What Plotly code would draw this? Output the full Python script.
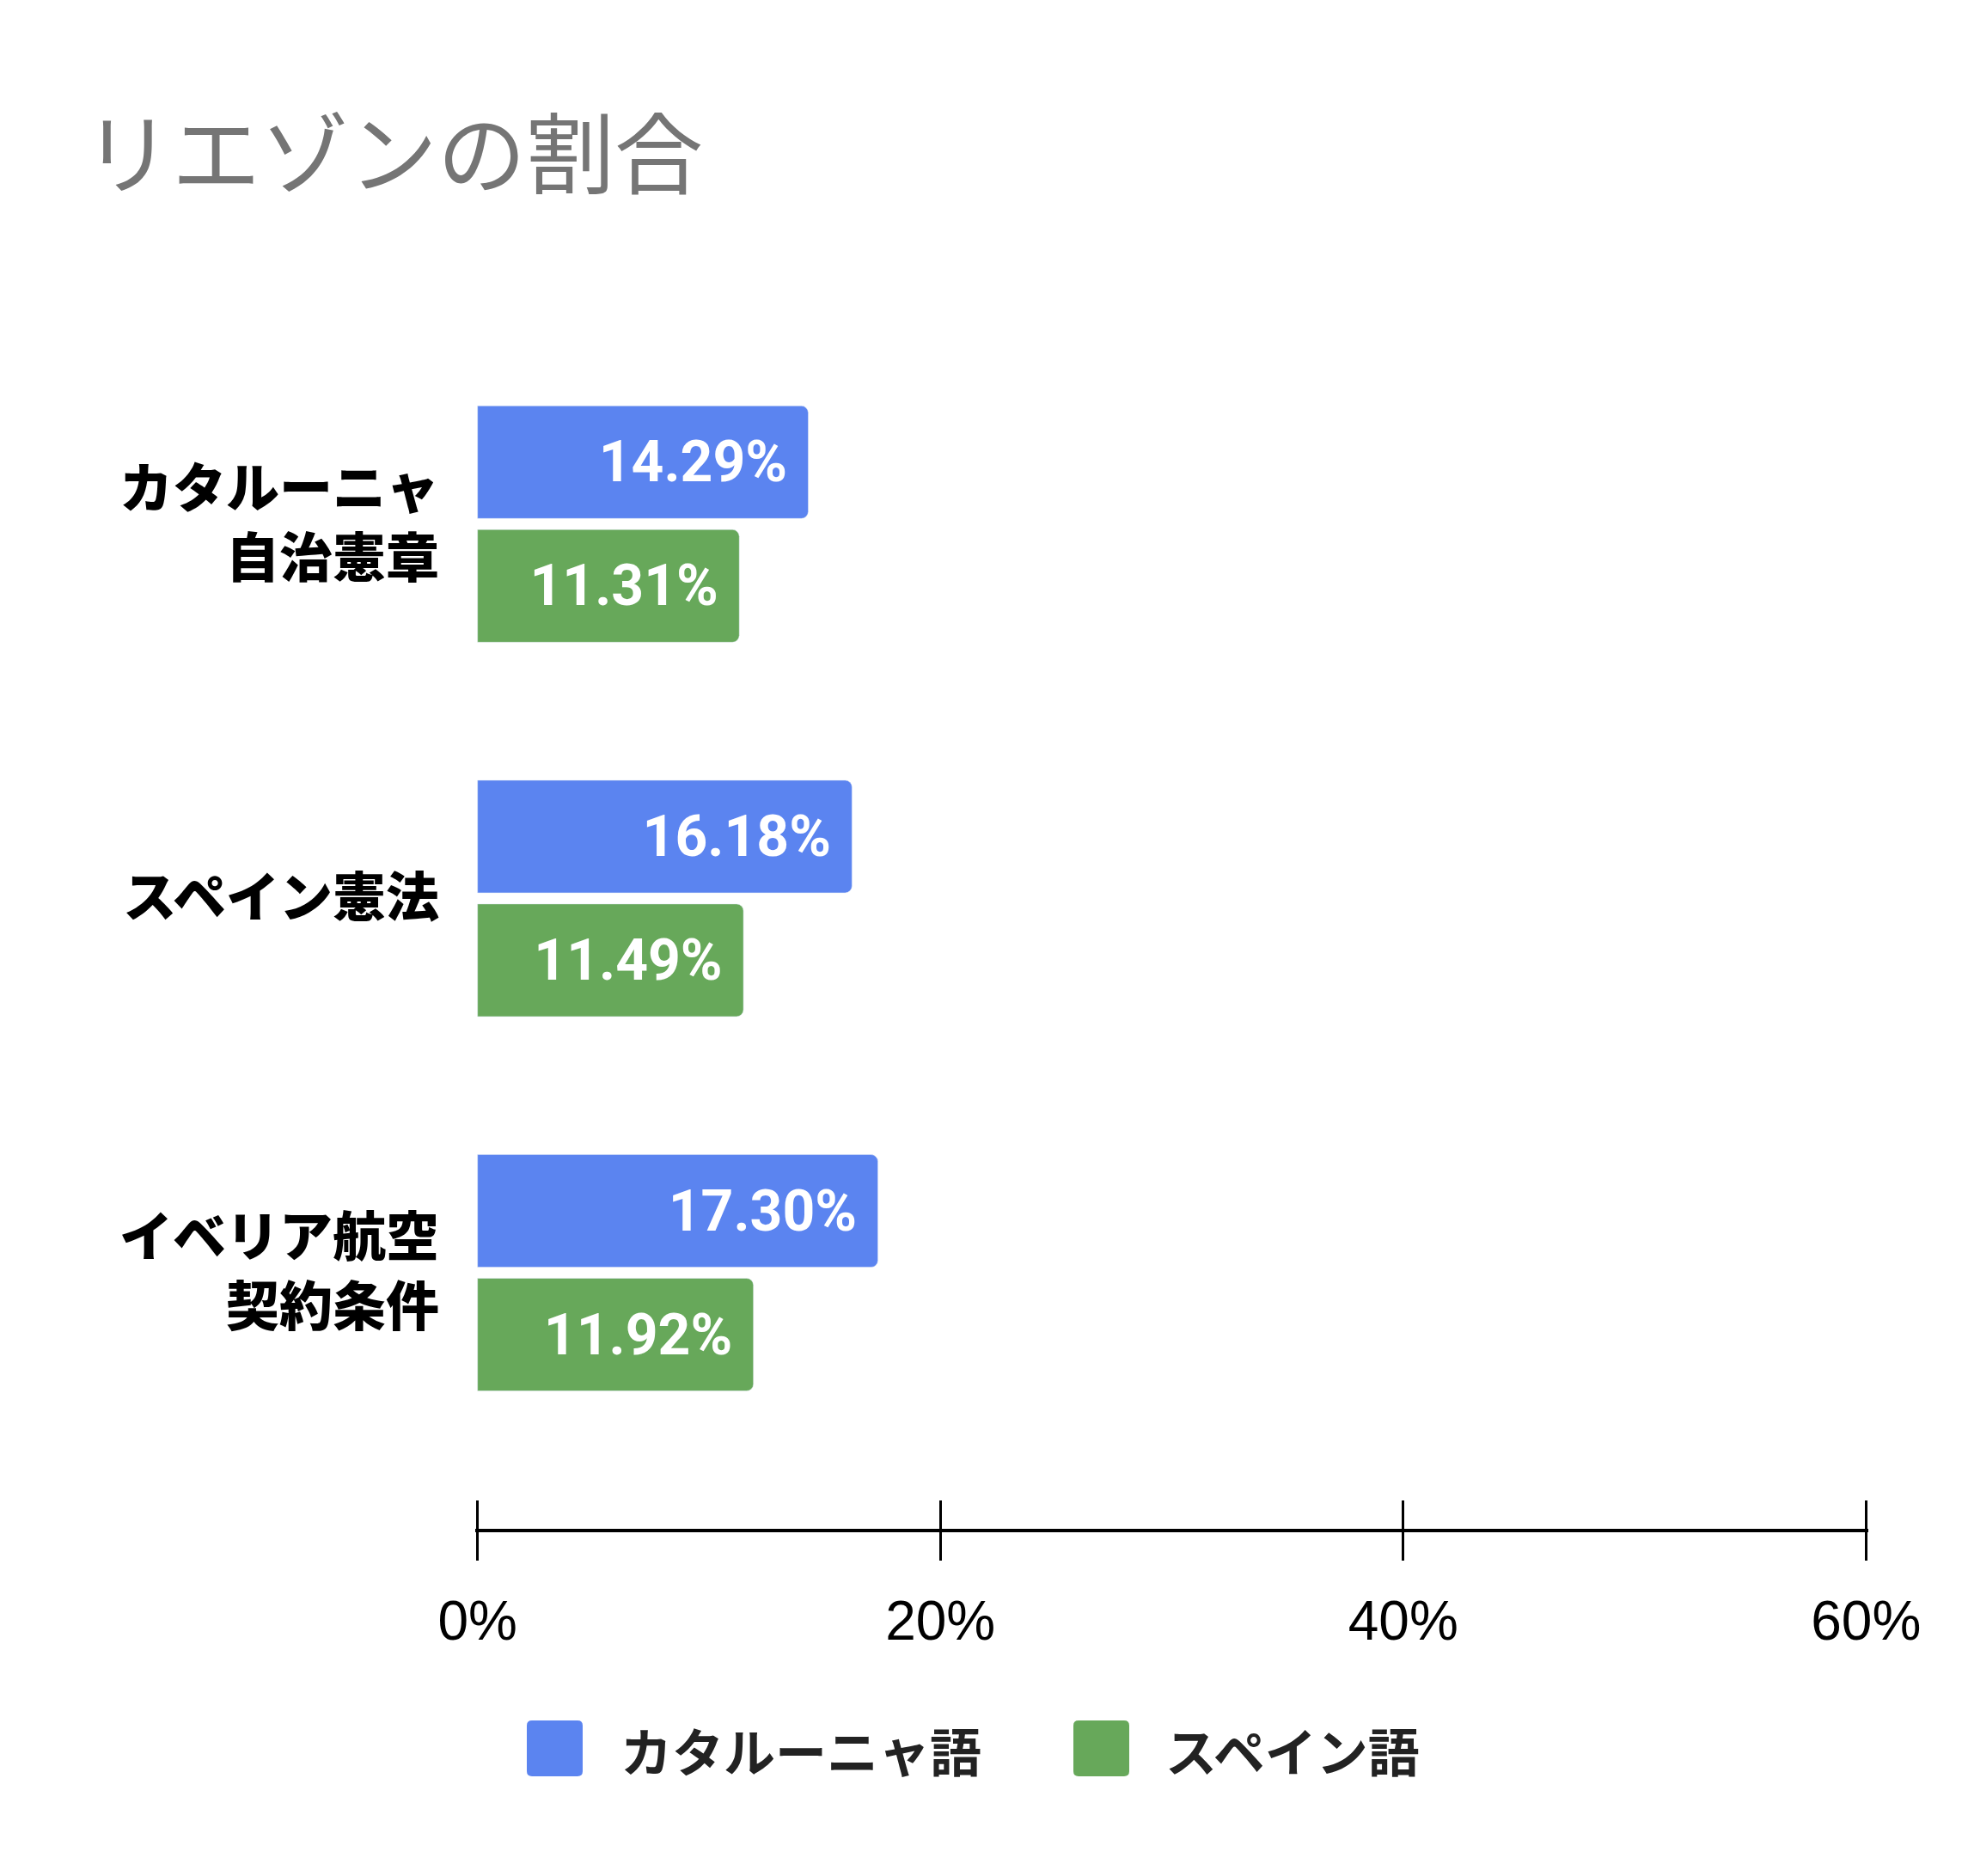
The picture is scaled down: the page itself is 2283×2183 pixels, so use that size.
import plotly.graph_objects as go

categories = ['カタルーニャ<br>自治憲章', 'スペイン憲法', 'イベリア航空<br>契約条件']
series_names = ['カタルーニャ語', 'スペイン語']
catalan = [14.29, 16.18, 17.30]
spanish = [11.31, 11.49, 11.92]
x_ticks = [0, 20, 40, 60]
x_tick_labels = ['0%', '20%', '40%', '60%']

colors = ['#5B84F0', '#67A85A']

W, H = 2283, 2183
OFF = 8  # the page body adds an 8px margin around the figure
margin = dict(l=553 - OFF, r=2283 - 2174 + OFF, t=392 - OFF, b=2183 - 1779 + OFF)
plot_w = W - margin['l'] - margin['r']
plot_h = H - margin['t'] - margin['b']


def to_paper(x, y):
    # page pixels -> paper coordinates
    return (x - OFF - margin['l']) / plot_w, (H - margin['b'] - (y - OFF)) / plot_h


def rounded_square(x0, y0, x1, y1, r):
    pts = [('M', [(x0 + r, y0)]), ('L', [(x1 - r, y0)]), ('Q', [(x1, y0), (x1, y0 + r)]),
           ('L', [(x1, y1 - r)]), ('Q', [(x1, y1), (x1 - r, y1)]), ('L', [(x0 + r, y1)]),
           ('Q', [(x0, y1), (x0, y1 - r)]), ('L', [(x0, y0 + r)]), ('Q', [(x0, y0), (x0 + r, y0)])]
    path = ''
    for cmd, ps in pts:
        path += cmd + ' '.join('%.5f,%.5f' % to_paper(px, py) for px, py in ps) + ' '
    return path + 'Z'


fig = go.Figure()
for name, vals, color in zip(series_names, [catalan, spanish], colors):
    fig.add_trace(go.Bar(y=categories, x=vals, name=name, orientation='h',
                         marker_color=color,
                         texttemplate='%{x:.2f}%\u00a0', textposition='inside',
                         insidetextanchor='end', constraintext='none',
                         textfont=dict(family='Roboto', size=66, color='white', weight='bold'),
                         showlegend=False, hoverinfo='skip'))

# invisible trace so the overlay axis (upper half of tick marks) gets drawn
fig.add_trace(go.Scatter(x=[0], y=[categories[0]], xaxis='x2', mode='markers',
                         marker=dict(opacity=0), showlegend=False, hoverinfo='skip'))

x_range = [-0.1, 60.1]

fig.update_layout(
    width=W, height=H, margin=margin,
    paper_bgcolor='white', plot_bgcolor='white',
    barmode='group', bargap=0.339, bargroupgap=0.09, barcornerradius=8,
    title=dict(text='リエゾンの割合', x=89 / W, xanchor='left', y=1 - (182 - OFF) / H, yanchor='middle',
               font=dict(family='Noto Sans CJK JP', size=103, color='#757575')),
    xaxis=dict(range=x_range, tickvals=x_ticks, ticktext=x_tick_labels,
               showgrid=False, zeroline=False,
               showline=True, linecolor='black', linewidth=4,
               ticks='outside', ticklen=33, tickwidth=3, tickcolor='black',
               tickfont=dict(family='Liberation Sans', size=64, color='black'),
               ticklabelstandoff=15),
    xaxis2=dict(overlaying='x', matches='x', anchor='y', side='bottom', tickvals=x_ticks,
                ticks='inside', ticklen=33, tickwidth=3, tickcolor='black',
                showticklabels=False, showgrid=False, zeroline=False, showline=False),
    yaxis=dict(range=[2.684, -0.5], showgrid=False, zeroline=False, showline=False, ticks='',
               tickfont=dict(family='Noto Sans CJK JP', size=62, color='black', weight=900),
               ticklabelstandoff=41),
)

# legend drawn by hand so the swatches can be as large as in the original
legend_items = [(613, 720), (1249, 1354)]
for (sx, tx), name, color in zip(legend_items, series_names, colors):
    fig.add_shape(type='path', xref='paper', yref='paper',
                  path=rounded_square(sx, 2002, sx + 65, 2067, 6),
                  fillcolor=color, line_width=0)
    px_, py_ = to_paper(tx, 2035)
    fig.add_annotation(text=name, xref='paper', yref='paper', x=px_, y=py_,
                       xanchor='left', yanchor='middle', showarrow=False,
                       font=dict(family='Noto Sans CJK JP', size=60, color='#222222', weight='bold'))

fig.write_html('out.html')
